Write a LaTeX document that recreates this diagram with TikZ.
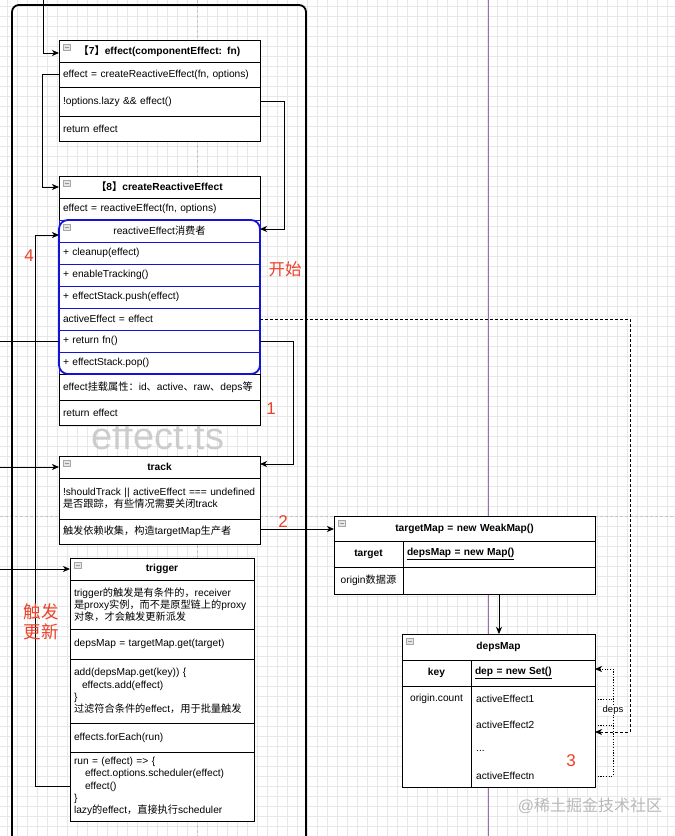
\documentclass[tikz,border=0pt]{standalone}
\usepackage{fontspec}
\setmainfont{Liberation Sans}
\newfontfamily\cjk{Noto Sans CJK SC}
\usetikzlibrary{arrows.meta}
\newcommand\zh[1]{{\cjk #1}}
\newcommand\cellfont{\fontsize{10.2}{12.2}\selectfont}
\definecolor{redlbl}{RGB}{236,64,40}
\definecolor{bluebox}{RGB}{20,20,215}
\definecolor{purp}{RGB}{150,110,180}
\definecolor{gridc}{RGB}{232,232,232}
\begin{document}
\begin{tikzpicture}[x=1pt,y=-1pt,
  cell/.style={draw=black, line width=0.9pt, fill=white, anchor=north west, inner xsep=4pt, inner ysep=0pt, outer sep=0pt, font=\cellfont, align=left},
  hdr/.style={cell, align=center, font=\cellfont\bfseries},
  brow/.style={cell, draw=bluebox},
  arr/.style={-{Stealth[length=7pt,width=6pt,inset=2pt]}, line width=0.9pt},
  plain/.style={line width=0.9pt},
  dashl/.style={line width=0.9pt, dash pattern=on 3pt off 2pt},
  dotl/.style={line width=0.9pt, dash pattern=on 1.2pt off 1.5pt},
  redlab/.style={text=redlbl, font=\fontsize{17}{20}\selectfont, inner sep=0pt},
  icon/.style={draw=gray!70, fill=gray!20, line width=0.6pt},
  txt/.style={font=\cellfont, inner sep=0pt}
]
\useasboundingbox (0,0) rectangle (675,836);
\clip (0,0) rectangle (675,836);
\fill[white] (0,0) rectangle (675,836);
% grid
\foreach \x in {7,17,...,675} \draw[gridc, line width=0.6pt] (\x,0) -- (\x,836);
\foreach \y in {6,16,...,836} \draw[gridc, line width=0.6pt] (0,\y) -- (675,\y);
% page breaks
\draw[gray!45, dash pattern=on 3pt off 2pt, line width=0.6pt] (197,0) -- (197,836);
\draw[gray!45, dash pattern=on 3pt off 2pt, line width=0.6pt] (0,516) -- (675,516);
\draw[purp, line width=0.8pt] (488,0) -- (488,836);
% container
\draw[line width=1.8pt, rounded corners=7pt] (12,850) -- (12,5) -- (306,5) -- (306,850);
% watermark effect.ts
\node[text=gray!40, font=\fontsize{38}{40}\selectfont, inner sep=0pt] (ets) at (158,436) {effect.ts};

% box 7
\node[hdr, text width=193pt, minimum height=22pt] (b7h) at (59,40) {\zh{【}7\zh{】}effect(componentEffect: fn)};
\node[cell, text width=193pt, minimum height=25pt] (b7a) at (59,62) {effect = createReactiveEffect(fn, options)};
\node[cell, text width=193pt, minimum height=29pt] (b7b) at (59,87) {!options.lazy \&\& effect()};
\node[cell, text width=193pt, minimum height=25pt] (b7c) at (59,116) {return effect};

% box 8
\node[hdr, text width=193pt, minimum height=22pt] (b8h) at (59,176) {\zh{【}8\zh{】}createReactiveEffect};
\node[cell, text width=193pt, minimum height=22pt] (b8a) at (59,198) {effect = reactiveEffect(fn, options)};
\node[brow, align=center, text width=193pt, minimum height=22pt] (rh) at (59,220) {reactiveEffect\zh{消费者}};
\node[brow, text width=193pt, minimum height=22pt] (r1) at (59,242) {+ cleanup(effect)};
\node[brow, text width=193pt, minimum height=22pt] (r2) at (59,264) {+ enableTracking()};
\node[brow, text width=193pt, minimum height=22pt] (r3) at (59,286) {+ effectStack.push(effect)};
\node[brow, text width=193pt, minimum height=22pt] (r4) at (59,308) {activeEffect = effect};
\node[brow, text width=193pt, minimum height=22pt] (r5) at (59,330) {+ return fn()};
\node[brow, text width=193pt, minimum height=22pt] (r6) at (59,352) {+ effectStack.pop()};
\node[cell, text width=193pt, minimum height=26pt] (b8c) at (59,374) {effect\zh{挂载属性：}id\zh{、}active\zh{、}raw\zh{、}deps\zh{等}};
\node[cell, text width=193pt, minimum height=25pt] (b8d) at (59,400) {return effect};
\draw[bluebox, line width=1.8pt, rounded corners=9pt] (rh.north west) rectangle (r6.south east);

% track
\node[hdr, text width=193pt, minimum height=22pt] (th) at (59,456) {track};
\node[cell, text width=193pt, minimum height=41pt] (ta) at (59,478) {!shouldTrack \textbar\textbar{} activeEffect === undefined\\\zh{是否跟踪，有些情况需要关闭}track};
\node[cell, text width=193pt, minimum height=25pt] (tb) at (59,519) {\zh{触发依赖收集，构造}targetMap\zh{生产者}};

% trigger
\node[hdr, text width=176pt, minimum height=22pt] (gh) at (70,558) {trigger};
\node[cell, text width=176pt, minimum height=49pt] (ga) at (70,580) {trigger\zh{的触发是有条件的，}receiver\\\zh{是}proxy\zh{实例，而不是原型链上的}proxy\\\zh{对象，才会触发更新派发}};
\node[cell, text width=176pt, minimum height=30pt] (gb) at (70,629) {depsMap = targetMap.get(target)};
\node[cell, text width=176pt, minimum height=64pt] (gc) at (70,659) {add(depsMap.get(key)) \{\\\hspace*{8pt}effects.add(effect)\\\}\\\zh{过滤符合条件的}effect\zh{，用于批量触发}};
\node[cell, text width=176pt, minimum height=29pt] (gd) at (70,723) {effects.forEach(run)};
\node[cell, text width=176pt, minimum height=69pt] (ge) at (70,752) {run = (effect) => \{\\\hspace*{11pt}effect.options.scheduler(effect)\\\hspace*{11pt}effect()\\\}\\lazy\zh{的}effect\zh{，直接执行}scheduler};

% targetMap
\node[hdr, text width=253pt, minimum height=25pt] (mh) at (334,516) {targetMap = new WeakMap()};
\node[hdr, text width=61pt, minimum height=26pt] (m1a) at (334,541) {target};
\node[cell, font=\cellfont\bfseries, text width=184pt, minimum height=26pt] (m1b) at (403,541) {\underline{depsMap = new Map()}};
\node[cell, align=center, text width=61pt, minimum height=27pt] (m2a) at (334,567) {origin\zh{数据源}};
\node[cell, text width=184pt, minimum height=27pt] (m2b) at (403,567) {};

% depsMap
\node[hdr, text width=185pt, minimum height=26pt] (dh) at (402,634) {depsMap};
\node[hdr, text width=61pt, minimum height=26pt] (d1a) at (402,660) {key};
\node[cell, font=\cellfont\bfseries, text width=116pt, minimum height=26pt] (d1b) at (471,660) {\underline{dep = new Set()}};
\node[cell, text width=61pt, minimum height=101pt] (d2a) at (402,686) {};
\node[cell, text width=116pt, minimum height=101pt] (d2b) at (471,686) {};
\node[txt] (oc) at (436.5,699) {origin.count};
\node[txt, anchor=west] (e1) at (476,699) {activeEffect1};
\node[txt, anchor=west] (e2) at (476,725) {activeEffect2};
\node[txt, anchor=west] (e3) at (476,751) {...};
\node[txt, anchor=west] (en) at (476,776) {activeEffectn};

% icons
\foreach \n in {b7h,b8h,rh,th,gh,mh,dh}{
  \draw[icon, shift={(\n.north west)}] (4,4) rectangle (11,10);
  \draw[gray!80, line width=0.6pt, shift={(\n.north west)}] (5.5,7) -- (9.5,7);
}

% connectors
\coordinate (T) at (43,0);
\coordinate (L) at (0,0);
\draw[arr] (T) |- ([yshift=-2pt]b7h.west);
\draw[arr] (b7a.west) -- ++(-17,0) |- (b8h.west);
\draw[arr] (b7b.east) -- ++(24,0) |- ([yshift=2pt]rh.east);
\draw[arr] (ge.west) -- ++(-35,0) |- ([yshift=-4pt]rh.west);
\draw[plain] (L |- r5.west) -- (r5.west);
\draw[arr] (r5.east) -- ++(33,0) |- ([yshift=3pt]th.east);
\draw[arr] (L |- th.west) -- (th.west);
\draw[arr] (L |- gh.west) -- (gh.west);
\draw[arr] ([yshift=2.5pt]tb.east) -- ([yshift=2.5pt]tb.east -| mh.west);
\draw[arr] (m2b.south) -- (m2b.south |- dh.north);
\draw[dashl, arr] (r4.east) -- ++(370,0) |- ([yshift=4.5pt]d2b.east);
\draw[dotl] (d2b.east |- e1.east) -- ++(18,0);
\draw[dotl] (d2b.east |- e2.east) -- ++(18,0);
\draw[dotl, arr] (d2b.east |- en.east) -- ++(18,0) |- ([yshift=4pt]d1b.east);
\node[fill=white, font=\fontsize{9.5}{11}\selectfont, inner sep=0.5pt] (depslbl) at (613,710) {deps};

% red labels
\node[redlab] (l4) at (29,256) {4};
\node[redlab, font=\fontsize{16.5}{18}\selectfont\cjk] (lstart) at (285,269) {开始};
\node[redlab] (l1) at (271,409) {1};
\node[redlab] (l2) at (283,522) {2};
\node[redlab] (l3) at (571,761) {3};
\node[redlab, align=center, font=\fontsize{17.5}{19.5}\selectfont\cjk] (lupd) at (41,622) {触发\\更新};

% footer watermark
\node[text=gray!55, font=\fontsize{16}{18}\selectfont, inner sep=0pt] (wm) at (590,806) {@\zh{稀土掘金技术社区}};
\end{tikzpicture}
\end{document}
